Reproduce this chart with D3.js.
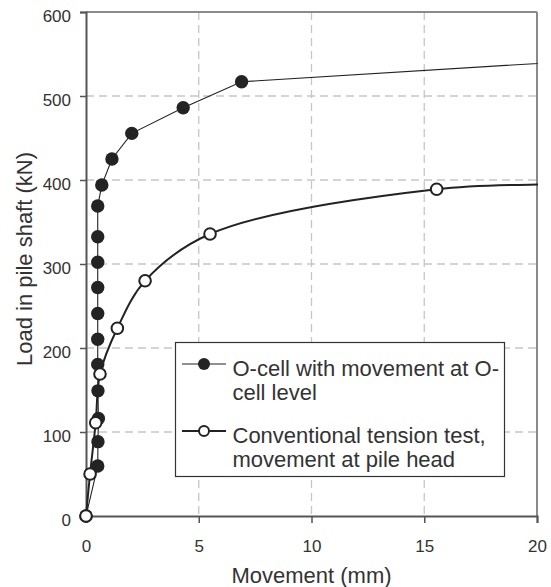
<!DOCTYPE html>
<html><head><meta charset="utf-8">
<script src="https://cdn.jsdelivr.net/npm/d3@7/dist/d3.min.js"></script>
<style>
html,body{margin:0;padding:0;background:#fff;}
text{font-family:"Liberation Sans",Arial,sans-serif;fill:#333;}
</style></head>
<body>
<svg id="chart" width="551" height="587"></svg>
<script>
// Data
const ocellMove = [0, 0.52, 0.53, 0.55, 0.53, 0.52, 0.52, 0.52, 0.52, 0.52, 0.52, 0.52, 0.70, 1.15, 2.03, 4.31, 6.9, 22];
const ocellLoad = [0, 59.5, 88.5, 116, 149, 180.5, 210.5, 241, 272, 302, 332.5, 369, 394, 425, 455.5, 486, 517, 542];
const convMove = [0, 0.18, 0.43, 0.62, 1.39, 2.62, 5.5, 15.55, 22];
const convLoad = [0, 50, 111, 169, 223.5, 280, 335.7, 389, 394.5];
const xTicks = [0, 5, 10, 15, 20];
const yTicks = [0, 100, 200, 300, 400, 500, 600];
const legendLabels = [["O-cell with movement at O-", "cell level"], ["Conventional tension test,", "movement at pile head"]];
const xTitle = "Movement (mm)";
const yTitle = "Load in pile shaft (kN)";

const svg = d3.select("#chart");
const L = 86, R = 537, T = 12, B = 516;
const x = d3.scaleLinear().domain([0, 20]).range([L, R]);
const y = d3.scaleLinear().domain([0, 600]).range([B, T]);

// grid
const grid = svg.append("g").attr("stroke", "#c6c6c6").attr("stroke-width", 1.3).attr("stroke-dasharray", "8,5");
grid.selectAll(".gx").data(xTicks.filter(d => d > 0 && d < 20)).join("line")
  .attr("x1", d => x(d)).attr("x2", d => x(d)).attr("y1", T).attr("y2", B);
grid.selectAll(".gy").data(yTicks.filter(d => d > 0 && d < 600)).join("line")
  .attr("x1", L).attr("x2", R).attr("y1", d => y(d)).attr("y2", d => y(d));

// top/right frame
svg.append("line").attr("x1", L).attr("x2", R).attr("y1", T).attr("y2", T).attr("stroke", "#8a8a8a").attr("stroke-width", 2);
svg.append("line").attr("x1", R).attr("x2", R).attr("y1", T).attr("y2", B).attr("stroke", "#8a8a8a").attr("stroke-width", 2);

// axes
const xAxis = d3.axisBottom(x).tickValues(xTicks).tickSize(7).tickPadding(20).tickFormat(d3.format("d"));
const yAxis = d3.axisLeft(y).tickValues(yTicks).tickSize(6).tickPadding(9).tickFormat(d3.format("d"));
const gx = svg.append("g").attr("transform", `translate(0,${B})`).call(xAxis);
const gy = svg.append("g").attr("transform", `translate(${L},0)`).call(yAxis);
[gx, gy].forEach(g => {
  g.select(".domain").attr("stroke", "#555").attr("stroke-width", 2);
  g.selectAll(".tick line").attr("stroke", "#555").attr("stroke-width", 1.5);
  g.selectAll(".tick text").style("font-size", "17px").attr("fill", "#333");
});
gy.selectAll(".tick text").attr("dy", "0.55em");
gx.selectAll(".tick text").attr("dy", "0.5em");

// titles
svg.append("text").attr("x", (L + R) / 2).attr("y", 583).attr("text-anchor", "middle")
  .style("font-size", "22px").text(xTitle);
svg.append("text").attr("transform", `translate(32,${(T + B) / 2 - 5}) rotate(-90)`).attr("text-anchor", "middle")
  .style("font-size", "22px").text(yTitle);

// clip
svg.append("defs").append("clipPath").attr("id", "clip").append("rect")
  .attr("x", 0).attr("y", 0).attr("width", R + 1).attr("height", 587);
const plot = svg.append("g").attr("clip-path", "url(#clip)");

const ocell = ocellMove.map((m, i) => [m, ocellLoad[i]]);
const conv = convMove.map((m, i) => [m, convLoad[i]]);

plot.append("path").datum(ocell)
  .attr("d", d3.line().x(d => x(d[0])).y(d => y(d[1])))
  .attr("fill", "none").attr("stroke", "#222").attr("stroke-width", 1.1);
plot.append("path").datum(conv)
  .attr("d", d3.line().curve(d3.curveCatmullRom.alpha(0.5)).x(d => x(d[0])).y(d => y(d[1])))
  .attr("fill", "none").attr("stroke", "#222").attr("stroke-width", 2);

plot.selectAll(".mo").data(ocell).join("circle")
  .attr("cx", d => x(d[0])).attr("cy", d => y(d[1])).attr("r", 6.7).attr("fill", "#232323");
plot.selectAll(".mc").data(conv).join("circle")
  .attr("cx", d => x(d[0])).attr("cy", d => y(d[1])).attr("r", 5.8)
  .attr("fill", "#fff").attr("stroke", "#222").attr("stroke-width", 2);

// legend
const lg = svg.append("g");
lg.append("rect").attr("x", 175.5).attr("y", 342.5).attr("width", 329).attr("height", 134)
  .attr("fill", "#fff").attr("stroke", "#333").attr("stroke-width", 1.2);
const rows = [{ly: 364, filled: true, lw: 1.1}, {ly: 431, filled: false, lw: 2}];
rows.forEach((r, i) => {
  lg.append("line").attr("x1", 182).attr("x2", 226).attr("y1", r.ly).attr("y2", r.ly)
    .attr("stroke", "#222").attr("stroke-width", r.lw);
  if (r.filled) lg.append("circle").attr("cx", 204).attr("cy", r.ly).attr("r", 6).attr("fill", "#232323");
  else lg.append("circle").attr("cx", 204).attr("cy", r.ly).attr("r", 5).attr("fill", "#fff").attr("stroke", "#222").attr("stroke-width", 2);
  legendLabels[i].forEach((t, j) => {
    lg.append("text").attr("x", 232.5).attr("y", r.ly + 11.5 + j * 24.5).style("font-size", "22px").text(t);
  });
});
</script>
</body></html>
